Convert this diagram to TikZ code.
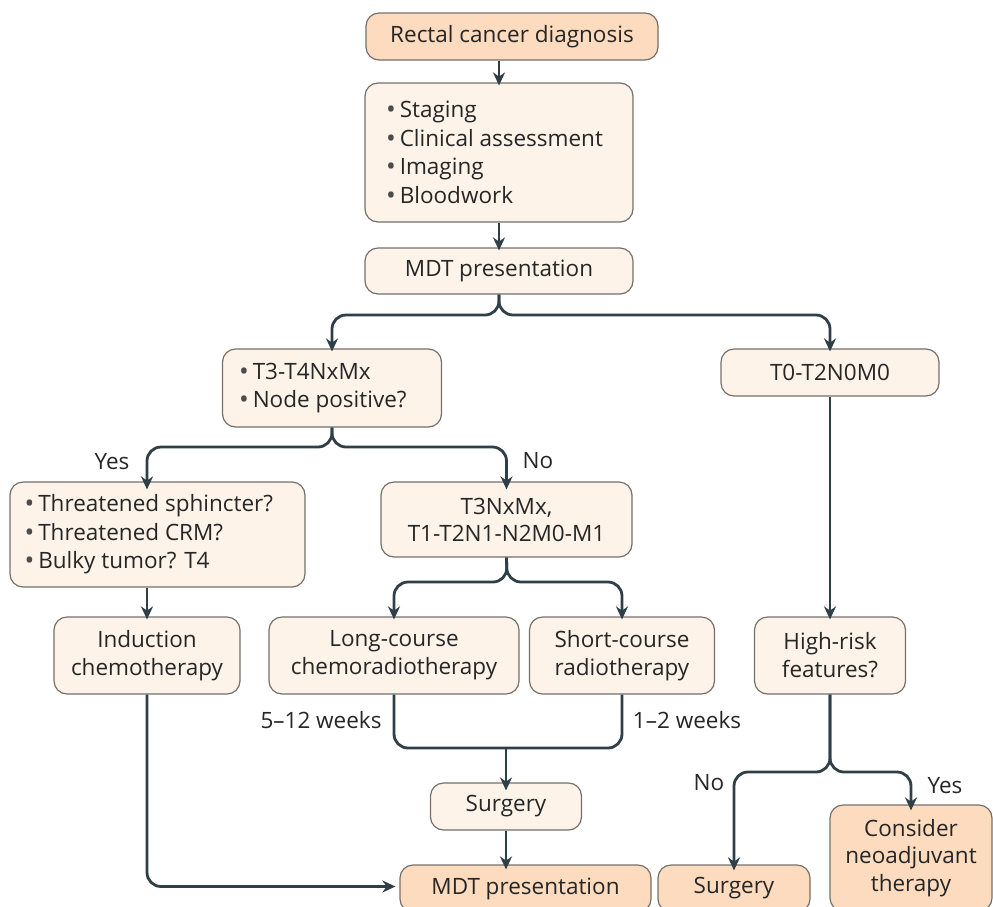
\documentclass[tikz,border=0pt]{standalone}
\usepackage{fontspec}
\setmainfont{Open Sans}
\usetikzlibrary{arrows.meta,calc}
\definecolor{lightfill}{HTML}{FDF3E8}
\definecolor{darkfill}{HTML}{FCDBBE}
\definecolor{boxline}{HTML}{75706B}
\definecolor{arrowcol}{HTML}{2F3F47}
\tikzset{
  box/.style={draw=boxline, line width=1.2pt, fill=lightfill, rounded corners=13pt, inner sep=0pt, align=center, font=\fontsize{22.5}{28}\selectfont, text=black!85},
  darkbox/.style={box, fill=darkfill},
  arr/.style={draw=arrowcol, line width=2.8pt, rounded corners=14pt, -{Stealth[length=13pt,width=12pt]}},
  plainline/.style={draw=arrowcol, line width=2.8pt, rounded corners=14pt},
  lbl/.style={font=\fontsize{22.5}{24}\selectfont, text=black!85, inner sep=0pt}
}
\newcommand{\bx}[2]{\parbox{#1}{\raggedright\fontsize{22.5}{28.5}\selectfont #2}}
\newcommand{\bl}{\textcolor{black!70}{\raisebox{-1pt}{\fontsize{26}{26}\selectfont\textbullet}}\hspace{4pt}}
\begin{document}
\begin{tikzpicture}[x=1pt,y=-1pt]
\useasboundingbox (0,0) rectangle (993,906);
% nodes
\node[darkbox, minimum width=292pt, minimum height=47pt] (diag) at (512,36.5) {Rectal cancer diagnosis};
\node[box, minimum width=268pt, minimum height=139pt] (eval) at (499,152.5) {\bx{226pt}{\bl Staging\\ \bl Clinical assessment\\ \bl Imaging\\ \bl Bloodwork}};
\node[box, minimum width=268pt, minimum height=46pt] (mdt1) at (499,271) {MDT presentation};
\node[box, minimum width=219pt, minimum height=78pt] (t34) at (332,388) {\bx{186pt}{\bl T3-T4NxMx\\ \bl Node positive?}};
\node[box, minimum width=218pt, minimum height=47pt] (t02) at (830,372.5) {T0-T2N0M0};
\node[box, minimum width=295pt, minimum height=105pt] (thr) at (157.5,534.5) {\bx{266pt}{\bl Threatened sphincter?\\ \bl Threatened CRM?\\ \bl Bulky tumor? T4}};
\node[box, minimum width=251pt, minimum height=75pt, font=\fontsize{22.5}{27}\selectfont] (t3n) at (506.5,519.5) {T3NxMx,\\ T1-T2N1-N2M0-M1};
\node[box, minimum width=186pt, minimum height=77pt] (ind) at (147,655.5) {Induction\\ chemotherapy};
\node[box, minimum width=250pt, minimum height=77pt] (long) at (394,655.5) {Long-course\\ chemoradiotherapy};
\node[box, minimum width=185pt, minimum height=77pt] (short) at (622,655.5) {Short-course\\ radiotherapy};
\node[box, minimum width=151pt, minimum height=77pt] (high) at (830,655.5) {High-risk\\ features?};
\node[box, minimum width=151pt, minimum height=47pt] (surg1) at (506,806.5) {Surgery};
\node[darkbox, minimum width=251pt, minimum height=47pt] (mdt2) at (525.5,888.5) {MDT presentation};
\node[darkbox, minimum width=152pt, minimum height=47pt] (surg2) at (734,888.5) {Surgery};
\node[darkbox, minimum width=162pt, minimum height=106pt, font=\fontsize{22.5}{27.5}\selectfont] (cons) at (911,858) {Consider\\ neoadjuvant\\ therapy};
% labels
\node[lbl] (yes1) at (112,462) {Yes};
\node[lbl] (no1) at (538,461) {No};
\node[lbl] (w512) at (321,720) {5--12 weeks};
\node[lbl] (w12) at (687,720) {1--2 weeks};
\node[lbl] (no2) at (709,783) {No};
\node[lbl] (yes2) at (945,786) {Yes};
% helper coordinates
\coordinate (b1) at (499,315);
\coordinate (b2) at (332,447);
\coordinate (b3) at (507,582);
\coordinate (b4) at (506,748);
\coordinate (b5) at (830,772);
% connectors
\draw[arr] (diag.south -| eval.north) -- ([yshift=-3pt]eval.north);
\draw[arr] (eval.south) -- ([yshift=-3pt]mdt1.north);
\draw[arr] (mdt1.south) -- (b1) -| ([yshift=-3pt]t34.north);
\draw[arr] (mdt1.south) -- (b1) -| ([yshift=-3pt]t02.north);
\draw[arr] (t34.south) -- (b2) -| ([yshift=-8pt]ind.north |- thr.north);
\draw[arr] (t34.south) -- (b2) -| ([yshift=-8pt]t3n.north);
\draw[arr] (thr.south -| ind.north) -- ([yshift=-3pt]ind.north);
\draw[arr] (t3n.south) -- (b3) -| ([yshift=-3pt]long.north);
\draw[arr] (t3n.south) -- (b3) -| ([yshift=-3pt]short.north);
\draw[arr] (t02.south) -- ([yshift=-3pt]high.north);
\draw[plainline] (long.south) |- (b4) -| (short.south);
\draw[arr] (b4) -- ([yshift=-8pt]surg1.north);
\draw[arr] (surg1.south) -- ([yshift=-5pt]surg1.south |- mdt2.north);
\draw[arr] (ind.south) |- ([xshift=-4pt,yshift=2pt]mdt2.west);
\draw[arr] (high.south) -- (b5) -| ([yshift=-6pt]surg2.north);
\draw[arr] (high.south) -- (b5) -| ([yshift=-6pt]cons.north);
\end{tikzpicture}
\end{document}
